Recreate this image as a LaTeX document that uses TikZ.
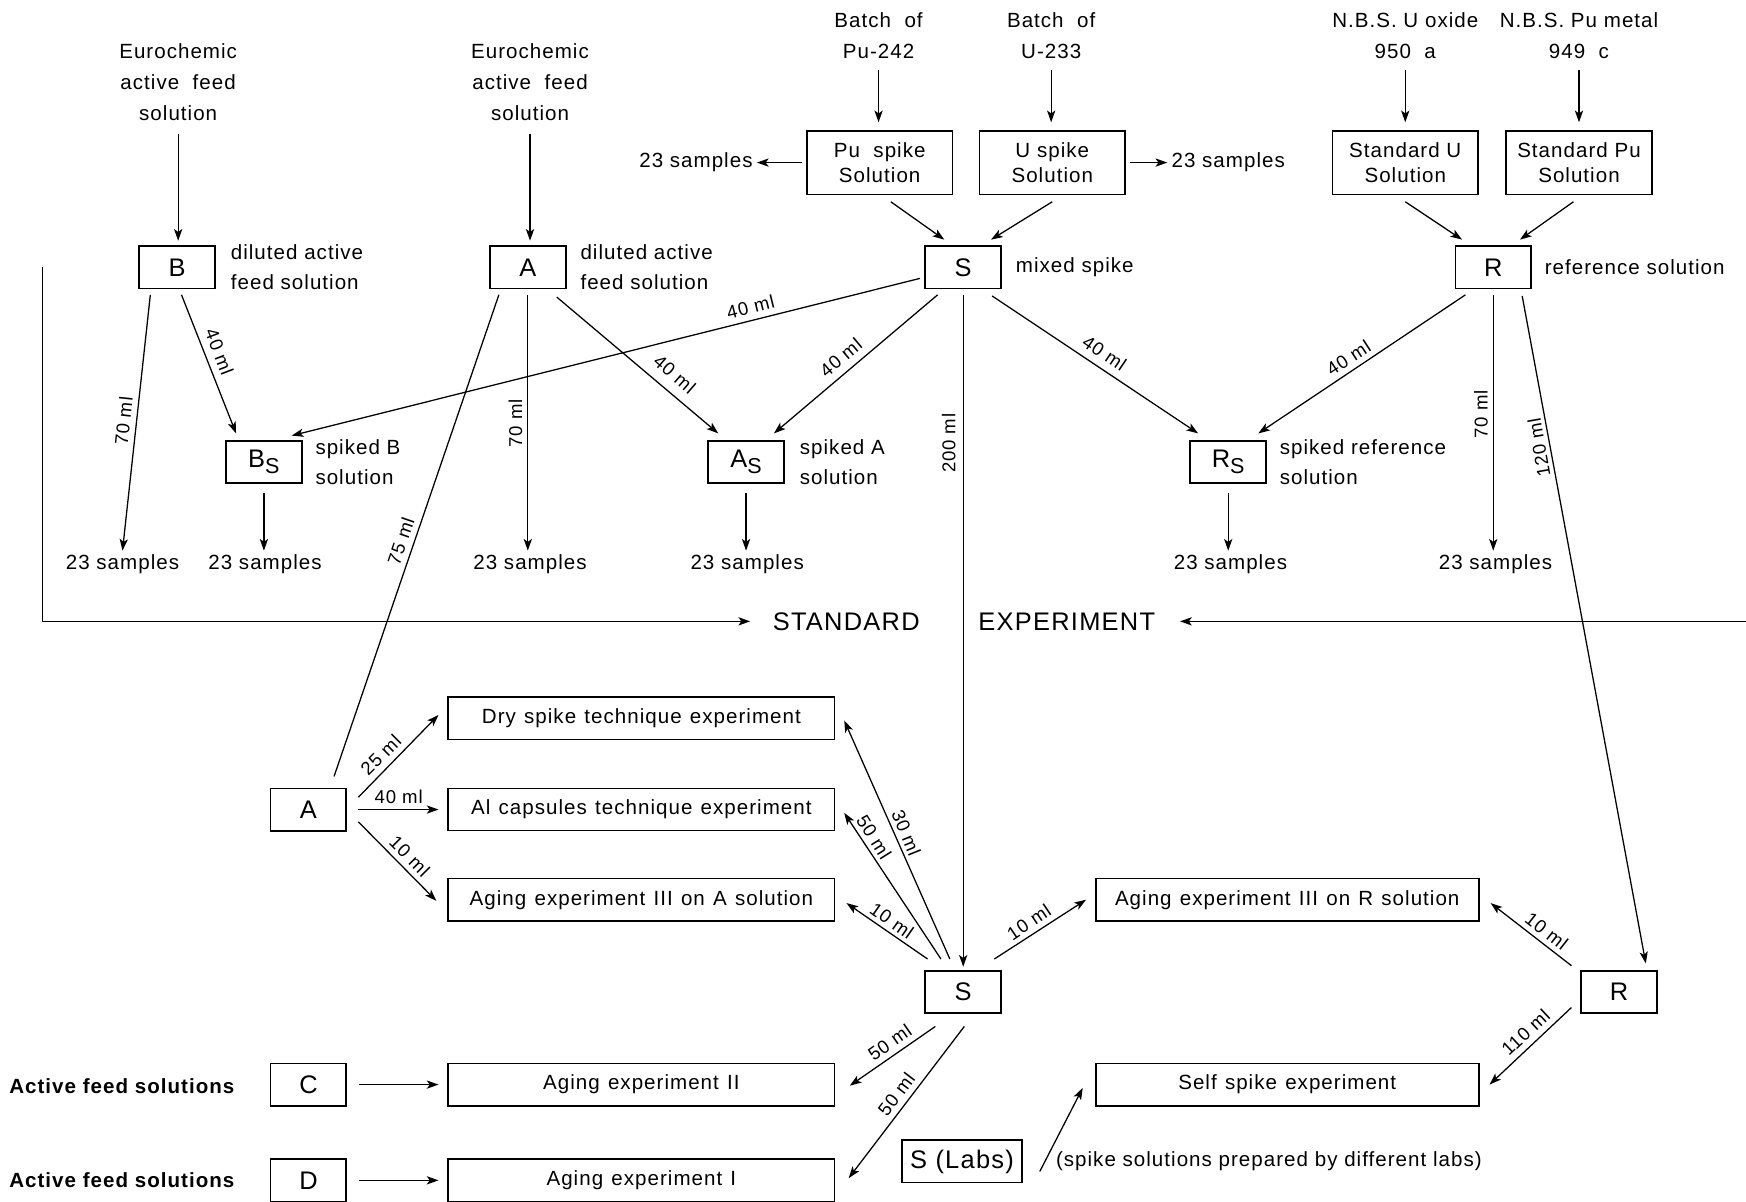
\documentclass[tikz,border=0pt]{standalone}
\usepackage{fontspec}
\setmainfont{Liberation Sans}[LetterSpace=5]
\usetikzlibrary{arrows.meta,calc}
\newcommand{\mysubS}{\raisebox{-0.45ex}{\fontsize{11}{11}\selectfont S}}
\newcommand{\mywidesp}{\spaceskip 4.2pt plus 1pt\relax}
\tikzset{
 arr/.style={-{Stealth[length=6pt,width=4.2pt,inset=1.5pt]}, line width=0.65pt},
 ln/.style={line width=0.65pt},
 sbox/.style={draw, line width=0.9pt, minimum width=1.36cm, minimum height=0.76cm, inner sep=0pt, font=\fontsize{13}{15}\selectfont},
 wbox/.style={draw, line width=0.8pt, minimum width=2.62cm, minimum height=1.14cm, inner sep=0pt, align=center, font=\fontsize{10.5}{13}\selectfont},
 ebox/.style={draw, line width=0.8pt, minimum width=6.94cm, minimum height=0.76cm, inner sep=0pt, font=\fontsize{10.5}{13}\selectfont},
 txt/.style={font=\fontsize{10.5}{15.9}\selectfont, align=center, inner sep=0pt},
 side/.style={font=\fontsize{10.5}{15.3}\selectfont, align=left, anchor=west, inner sep=0pt},
 samp/.style={font=\fontsize{10.5}{13}\selectfont, inner sep=2pt},
 lab/.style={font=\fontsize{9.5}{10}\selectfont, inner sep=0pt},
 big/.style={font=\fontsize{13}{15}\selectfont, inner sep=0pt},
}
\begin{document}
\begin{tikzpicture}[x=0.02cm,y=-0.02cm]
\useasboundingbox (0,0) rectangle (1568,1079);

% sources
\node[txt] (eu1) at (160,74) {Eurochemic\\active\ \ feed\\solution};
\node[txt] (eu2) at (476,74) {Eurochemic\\active\ \ feed\\solution};
\node[txt] (bp) at (789,32) {Batch\ \ of\\Pu-242};
\node[txt] (bu) at (944,32) {Batch\ \ of\\U-233};
\node[txt] (nu) at (1262,32) {N.B.S. U oxide\\950\ \ a};
\node[txt] (npu) at (1418,32) {N.B.S.\ Pu metal\\949\ \ c};

% top boxes
\node[wbox] (Pu) at (790,146) {Pu\ \ spike\\Solution};
\node[wbox] (U) at (945,146) {U spike\\Solution};
\node[wbox] (SU) at (1262,146) {Standard U\\Solution};
\node[wbox] (SPu) at (1418,146) {Standard Pu\\Solution};
\node[samp] (sp) at (625,146) {23 samples};
\node[samp] (su) at (1103,146) {23 samples};

\node[sbox] (B) at (159,240) {B};
\node[sbox] (A) at (474,240) {A};
\node[sbox] (S) at (865,240) {S};
\node[sbox] (R) at (1341,240) {R};
\node[side] (lB) at (207,240) {diluted active\\feed solution};
\node[side] (lA) at (521,240) {diluted active\\feed solution};
\node[side] (lS) at (912,240) {mixed spike};
\node[side] (lR) at (1387,240) {reference solution};

\node[sbox] (Bs) at (237,415) {B\mysubS};
\node[sbox] (As) at (670,415) {A\mysubS};
\node[sbox] (Rs) at (1103,415) {R\mysubS};
\node[side] (lBs) at (283,415) {spiked B\\solution};
\node[side] (lAs) at (718,415) {spiked A\\solution};
\node[side] (lRs) at (1149,415) {spiked reference\\solution};

\node[samp] (s1) at (110,507) {23 samples};
\node[samp] (s2) at (238,507) {23 samples};
\node[samp] (s3) at (476,507) {23 samples};
\node[samp] (s4) at (671,507) {23 samples};
\node[samp] (s5) at (1105,507) {23 samples};
\node[samp] (s6) at (1343,507) {23 samples};

\node[big] (std) at (760,558) {STANDARD};
\node[big] (exps) at (958,558) {EXPERIMENT};

% lower part
\node[sbox] (A2) at (277,727) {A};
\node[ebox] (Dry) at (576,645) {\mywidesp Dry spike technique experiment};
\node[ebox] (Al) at (576,727) {\mywidesp Al capsules technique experiment};
\node[ebox] (AgA) at (576,808) {\mywidesp Aging experiment III on A solution};
\node[ebox, minimum width=6.88cm] (AgR) at (1156,808) {\mywidesp Aging experiment III on R solution};
\node[sbox] (S2) at (865,891) {S};
\node[sbox] (R2) at (1454,891) {R};
\node[ebox] (AgII) at (576,974) {\mywidesp Aging experiment II};
\node[ebox, minimum width=6.88cm] (Self) at (1156,974) {\mywidesp Self spike experiment};
\node[ebox] (AgI) at (576,1060) {\mywidesp Aging experiment I};
\node[sbox] (C) at (277,974) {C};
\node[sbox] (D) at (277,1060) {D};
\node[side, font={\fontsize{10.5}{13}\selectfont\bfseries}] (lC) at (8,975) {Active feed solutions};
\node[side, font={\fontsize{10.5}{13}\selectfont\bfseries}] (lD) at (8,1060) {Active feed solutions};
\node[sbox, minimum width=2.16cm] (SL) at (864,1043) {S (Labs)};
\node[side] (lSL) at (948,1043) {(spike solutions prepared by different labs)};

% connectors top
\draw[arr] ($(eu1.south)+(0,11)$) -- ($(eu1.south |- B.north)+(0,-4)$);
\draw[arr] ($(eu2.south)+(0,11)$) -- ($(eu2.south |- A.north)+(0,-4)$);
\draw[arr] ($(bp.south)+(0,10)$) -- ($(bp.south |- Pu.north)+(0,-7)$);
\draw[arr] ($(bu.south)+(0,10)$) -- ($(bu.south |- U.north)+(0,-7)$);
\draw[arr] ($(nu.south)+(0,10)$) -- ($(nu.south |- SU.north)+(0,-7)$);
\draw[arr] ($(npu.south)+(0,10)$) -- ($(npu.south |- SPu.north)+(0,-7)$);
\draw[arr] ($(Pu.west)+(-4,0)$) -- (sp.east);
\draw[arr] ($(U.east)+(4,0)$) -- (su.west);
\draw[arr] ($(Pu.south)+(10,6)$) -- ($(S.north)+(-17,-5)$);
\draw[arr] ($(U.south)+(0,6)$) -- ($(S.north)+(25,-5)$);
\draw[arr] ($(SU.south)+(0,6)$) -- ($(R.north)+(-28,-5)$);
\draw[arr] ($(SPu.south)+(-5,6)$) -- ($(R.north)+(24,-5)$);

% fan out
\draw[arr] ($(B.south)+(-24,5)$) -- (s1.north);
\draw[arr] ($(B.south)+(4,5)$) -- ($(Bs.north)+(-25,-6)$);
\draw[arr] ($(S.west)+(-4,10)$) -- ($(Bs.north)+(25,-4)$);
\draw[ln] ($(A.south)+(-26,5)$) -- ($(A2.north)+(23,-10)$);
\draw[arr] ($(A.south)+(0,5)$) -- (A.south |- s3.north);
\draw[arr] ($(A.south)+(26,7)$) -- ($(As.north)+(-25,-6)$);
\draw[arr] ($(S.south)+(-23,5)$) -- ($(As.north)+(25,-6)$);
\draw[arr] ($(S.south)+(0,5)$) -- ($(S2.north)+(0,-3)$);
\draw[arr] ($(S.south)+(26,6)$) -- ($(Rs.north)+(-27,-6)$);
\draw[arr] ($(R.south)+(-25,5)$) -- ($(Rs.north)+(27,-6)$);
\draw[arr] ($(R.south)+(0,5)$) -- (R.south |- s6.north);
\draw[arr] ($(R.south)+(26,6)$) -- ($(R2.north)+(24,-6)$);
\draw[arr] ($(Bs.south)+(0,8)$) -- (Bs.south |- s2.north);
\draw[arr] ($(As.south)+(0,8)$) -- (As.south |- s4.north);
\draw[arr] ($(Rs.south)+(0,8)$) -- (Rs.south |- s5.north);

% frame
\coordinate (lt) at (38,240);
\coordinate (rt) at (1568,558);
\draw[arr] (lt) |- ($(std.west)+(-20,0)$);
\draw[arr] (rt) -- ($(exps.east)+(22,0)$);

% lower connectors
\draw[arr] ($(A2.east)+(10,-11)$) -- ($(Dry.west)+(-8,-3)$);
\draw[arr] ($(A2.east)+(10,0)$) -- ($(Al.west)+(-8,0)$);
\draw[arr] ($(A2.east)+(10,11)$) -- ($(AgA.west)+(-10,1)$);
\draw[arr] ($(S2.north)+(-12,-10)$) -- ($(Dry.east)+(8,2)$);
\draw[arr] ($(S2.north)+(-20,-10)$) -- ($(Al.east)+(8,3)$);
\draw[arr] ($(S2.north)+(-32,-10)$) -- ($(AgA.east)+(10,3)$);
\draw[arr] ($(S2.north)+(28,-10)$) -- ($(AgR.west)+(-8,0)$);
\draw[arr] ($(R2.north west)+(-8,-4)$) -- ($(AgR.east)+(10,3)$);
\draw[arr] ($(R2.south west)+(-8,-6)$) -- ($(Self.east)+(9,0)$);
\draw[arr] ($(S2.south)+(-25,11)$) -- ($(AgII.east)+(13,1)$);
\draw[arr] ($(S2.south)+(1,11)$) -- ($(AgI.east)+(12,-2)$);
\draw[arr] ($(SL.east)+(15,9)$) -- ($(Self.west)+(-11,3)$);
\draw[arr] ($(C.east)+(11,0)$) -- ($(AgII.west)+(-8,0)$);
\draw[arr] ($(D.east)+(11,0)$) -- ($(AgI.west)+(-8,0)$);

% labels
\node[lab, rotate=84] at (111,378) {70 ml};
\node[lab, rotate=-69] at (197,316) {40 ml};
\node[lab, rotate=14] at (674,276) {40 ml};
\node[lab, rotate=71] at (360,486) {75 ml};
\node[lab, rotate=90] at (463,380) {70 ml};
\node[lab, rotate=-41] at (606,336) {40 ml};
\node[lab, rotate=40] at (755,321) {40 ml};
\node[lab, rotate=90] at (852,398) {200 ml};
\node[lab, rotate=-34] at (992,317) {40 ml};
\node[lab, rotate=33] at (1211,321) {40 ml};
\node[lab, rotate=90] at (1330,372) {70 ml};
\node[lab, rotate=100] at (1382,402) {120 ml};
\node[lab, rotate=45] at (342,678) {25 ml};
\node[lab] at (358,716) {40 ml};
\node[lab, rotate=-45] at (368,769) {10 ml};
\node[lab, rotate=-68] at (814,748) {30 ml};
\node[lab, rotate=-58] at (785,752) {50 ml};
\node[lab, rotate=-35] at (801,827) {10 ml};
\node[lab, rotate=34] at (924,828) {10 ml};
\node[lab, rotate=-38] at (1389,836) {10 ml};
\node[lab, rotate=43] at (1370,927) {110 ml};
\node[lab, rotate=35] at (799,936) {50 ml};
\node[lab, rotate=53] at (805,983) {50 ml};
\end{tikzpicture}
\end{document}
